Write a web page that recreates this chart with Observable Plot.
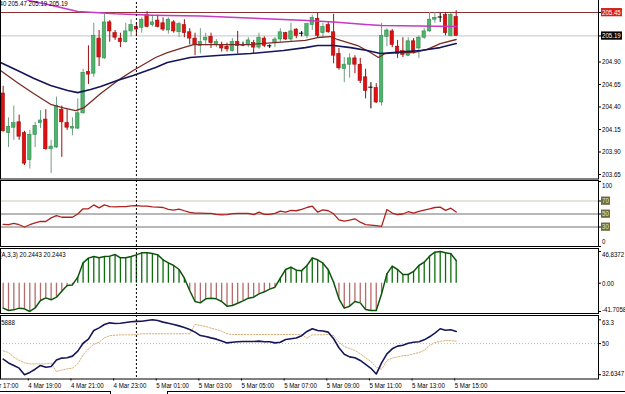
<!DOCTYPE html>
<html><head><meta charset="utf-8">
<script src="https://cdn.jsdelivr.net/npm/d3@7"></script>
<script src="https://cdn.jsdelivr.net/npm/@observablehq/plot@0.6"></script>
<style>
html,body{margin:0;padding:0;background:#fff;}
#chart{position:relative;width:625px;height:394px;overflow:hidden;background:#fff;}
#chart svg{position:absolute;left:0;overflow:hidden;}
.tab{position:absolute;border-color:#000;border-style:solid;border-width:0;}
</style></head><body><div id="chart"></div>
<script>
// ---- candles (15-minute bars, index 0 = 4 Mar 17:45) ----
const openP = [204.55,204.11,204.17,204.23,204.11,203.81,204.09,204.22,204.26,203.93,
203.95,204.37,204.22,204.16,204.16,204.33,204.79,204.77,205.16,204.94,
205.34,205.22,205.16,205.12,205.24,205.29,205.28,205.42,205.31,205.36,
205.33,205.25,205.34,205.23,205.31,205.23,205.16,205.08,205.14,205.18,
205.09,205.09,205.07,205.02,205.12,205.09,205.09,205.11,205.06,205.16,
205.08,205.11,205.15,205.22,205.15,205.26,205.22,205.19,205.31,205.38,
205.22,205.31,205.23,204.99,204.82,204.87,204.94,204.87,204.73,204.62,
204.61,204.45,205.18,205.24,205.07,205.02,204.97,205.13,205.05,205.17,
205.24,205.37,205.40,205.42,205.19,205.40];
const highP = [204.63,204.28,204.41,204.31,204.13,204.14,204.23,204.36,204.37,204.03,
204.51,204.41,204.37,204.28,204.49,204.82,205.08,205.33,205.25,205.43,
205.36,205.25,205.22,205.33,205.37,205.33,205.39,205.46,205.42,205.42,
205.39,205.39,205.36,205.34,205.37,205.27,205.22,205.27,205.22,205.22,
205.15,205.12,205.11,205.16,205.24,205.12,205.17,205.14,205.22,205.18,
205.09,205.17,205.27,205.23,205.33,205.27,205.24,205.33,205.42,205.44,
205.33,205.34,205.43,205.05,204.95,204.99,204.97,204.94,204.82,204.67,
204.66,205.33,205.27,205.26,205.14,205.17,205.17,205.16,205.19,205.27,
205.45,205.45,205.44,205.45,205.44,205.47];
const lowP = [204.12,203.95,204.03,204.03,203.75,203.71,203.95,204.16,203.92,203.66,
203.94,203.84,204.14,204.08,204.15,204.32,204.65,204.73,204.85,204.93,
205.12,205.14,205.06,205.11,205.18,205.19,205.22,205.28,205.29,205.28,
205.24,205.21,205.22,205.17,205.17,205.09,204.97,204.99,205.08,205.05,
205.06,205.01,205.01,205.01,204.99,205.07,205.06,204.99,205.04,205.06,
205.05,205.06,205.12,205.14,205.12,205.16,205.18,205.16,205.25,205.17,
205.17,205.22,204.88,204.81,204.67,204.72,204.77,204.66,204.49,204.38,
204.44,204.41,205.07,205.06,204.94,204.95,204.96,204.99,204.94,205.15,
205.23,205.33,205.34,205.19,205.18,205.19];
const closeP = [204.13,204.18,204.22,204.07,203.77,204.09,204.19,204.25,203.93,203.96,
204.41,204.23,204.17,204.18,204.33,204.78,204.76,205.19,204.95,205.34,
205.24,205.17,205.12,205.24,205.31,205.26,205.37,205.29,205.34,205.29,
205.26,205.37,205.24,205.32,205.22,205.16,205.09,205.12,205.17,205.11,
205.12,205.05,205.04,205.12,205.08,205.09,205.14,205.06,205.17,205.08,
205.08,205.15,205.23,205.15,205.24,205.19,205.22,205.32,205.39,205.19,
205.29,205.23,204.97,204.83,204.87,204.94,204.87,204.69,204.58,204.62,
204.45,205.19,205.25,205.09,204.99,204.98,205.13,205.01,205.17,205.24,
205.37,205.39,205.40,205.22,205.42,205.19];

// ---- moving averages on the price panel (sampled at bar index) ----
const magIdx = [2, 5, 9, 14, 21, 28, 37, 46, 57, 62, 68, 71, 85];
const magVal = [205.65, 205.58, 205.53, 205.46, 205.435, 205.42, 205.41, 205.39, 205.36, 205.344, 205.316, 205.305, 205.294];
const brownIdx = [-0.5, 2.7, 5.7, 8.9, 11.3, 13.6, 15.1, 18.3, 21.4, 24.4, 28.6, 30.8, 33.8, 35.7, 46.4, 48.3, 56.7, 59, 61.4, 62.7, 66.5, 68.9, 70.4, 71.7, 74.5, 77, 79.6, 82, 85];
const brownVal = [204.805, 204.67, 204.55, 204.43, 204.39, 204.36, 204.39, 204.55, 204.69, 204.805, 204.95, 205.005, 205.06, 205.094, 205.094, 205.105, 205.14, 205.172, 205.183, 205.15, 205.083, 205.005, 204.95, 204.994, 205.005, 205.005, 205.04, 205.105, 205.15];
const navyIdx = [-0.5, 2.7, 5.7, 8.9, 12.1, 14, 16.4, 18.3, 21.4, 24.4, 28.6, 30.8, 35.1, 40.2, 46.4, 52.6, 56.7, 59, 62, 65.2, 68.3, 70.8, 73.2, 78.3, 82, 85];
const navyVal = [204.894, 204.805, 204.72, 204.64, 204.583, 204.56, 204.594, 204.627, 204.694, 204.75, 204.84, 204.894, 204.95, 204.972, 204.994, 205.028, 205.06, 205.083, 205.083, 205.06, 205.028, 204.994, 205.005, 205.028, 205.06, 205.105];
const priceLines = [205.45, 205.19];
const priceTicks = [205.45, 205.19, 204.90, 204.65, 204.40, 204.15, 203.90, 203.65];
const priceHeader = "40 205.47 205.19 205.19";

// ---- RSI ----
const rsi = [34,33.5,35.5,33.5,30,33.5,36.5,38.5,38.5,44,
47.5,45,45,45,50,58,58,64,59.5,64,
61.5,61,61.5,61.5,62.5,63,62,62,61,60.5,
60,57,56,57.5,55,52.5,51.5,51.5,51,51,
49.5,48.5,49,50.5,51,51,51,49,53,49.5,
49.5,51,54.5,53,55.5,55,57,60,62,53,
56.4,55,50.3,41,39,40.5,42.6,37.4,33.8,33,
32,31,56.9,51.5,49.2,50,53.5,51.5,54,56,
57.9,60,60.5,55.5,59,53];
const rsiLevels = [70, 50, 30];
const rsiTicks = [100, 70, 50, 30, 0];

// ---- histogram oscillator ----
const hist = [-36.8,-40.3,-39.3,-36.8,-37.8,-41.7058,-36.5,-25.5,-21.6,-24.5,
-20.6,-11.8,-3.4,-2.5,8.9,30,37,39.4,37.4,39.4,
39.9,42.3,37.4,37.4,39.4,41.8,44.8,44.8,43.8,41.8,
34.5,30,26.1,20.2,7.4,-10.8,-27,-29,-23.1,-22.1,
-23.1,-27,-33.9,-32.9,-29.5,-26,-22.1,-20.6,-15.7,-12.7,
-8.8,-5.9,7.4,20.2,23.6,19.2,18.5,26.1,37.2,34.5,
29.5,19.7,1.5,-23.1,-36.8,-33.9,-27,-29,-38.8,-40.3,
-40.3,-15.7,13.8,25.1,20.2,12.8,12.8,17.3,26.1,31,
39.9,45.8,46.8372,44.8,43.3,33.5];
const histTicks = [46.8372, 0, -41.7058];
const histTickText = ["46.8372", "0.00", "-41.7058"];
const histHeader = "(A,3,3) 20.2443 20.2443";

// ---- bottom oscillator (main + signal) ----
const osc = [41.3,39.2,37.8,36.3,32.6347,33.9,35.7,37.8,36.8,37.2,
40.8,41.9,42.1,43,45.8,50.2,52.5,57.3,58.8,60.7,
61.6,61.2,61.4,61.8,62.2,62.4,62.5,62.9,63.3,62.9,
62,61.4,60.7,59.9,59,57.9,56.4,54.5,54,53.2,
52.5,51.4,50.4,50.8,51,51.2,51.2,51.2,51.4,51,
51,50.4,50.8,52.3,52.7,53.1,54.4,56.8,58.3,57.3,
57,56.4,52.7,47.7,44.1,42.6,42.1,40.6,38.4,36.2,
33,39.2,44.3,47.1,48.6,49.1,50.2,50.8,51,52.1,
53.8,55.9,58.3,57.5,57.7,56.8];
const oscSignal = [46,45,42.4,40.6,39.3,38.7,38.7,38.7,38.7,39.1,
34.4,35.2,35.9,36.3,38.7,43.7,47.1,49.5,50.8,53.2,
54.4,54.7,54.9,54.9,54.9,55.1,55.5,55.5,55.5,55.5,
55.5,55.5,55.5,55.5,55.5,55.5,60.7,60.1,59.6,58.6,
57.9,56.9,55.5,55.1,55.1,55.1,55.1,55.1,55.1,55.1,
55.1,55.1,55.1,55.1,55.1,55.1,55.1,53,54.9,54.9,
54.9,55.1,54.5,50.8,48.4,47.3,46.2,44.3,42.1,40,
36.8,35.7,40.6,41.9,42.6,43.2,43.5,44.3,45,46.2,
49,50.6,51.2,51.7,51.6,51.4];
const oscTicks = [63.3, 50, 32.6347];
const oscTickText = ["63.3", "50", "32.6347"];
const oscHeader = ".5888";

// ---- time axis ----
const timeIdx = [-3, 5, 13, 21, 29, 37, 45, 53, 61, 69, 77, 85];
const timeText = ["4 Mar 17:00","4 Mar 19:00","4 Mar 21:00","4 Mar 23:00","5 Mar 01:00","5 Mar 03:00",
  "5 Mar 05:00","5 Mar 07:00","5 Mar 09:00","5 Mar 11:00","5 Mar 13:00","5 Mar 15:00"];
const daySeparator = [25];

// =====================================================================
const chart = document.getElementById("chart");
const FONT = "'Liberation Sans',Arial,sans-serif";
const SQUEEZE = 0.82;
const xDomain = [-0.5, 111.7];
const idx = a => a.map((v, i) => ({i, v}));
const pairs = (I, V) => I.map((i, k) => ({i, v: V[k]}));

const candles = openP.map((o, i) => ({i, o, h: highP[i], l: lowP[i], c: closeP[i]}));
const dir = d => d.c > d.o ? "up" : d.c < d.o ? "down" : "doji";
const bodyFill = {up: "#4fb36c", down: "#e01010", doji: "#000"};
const bodyStroke = {up: "#2f8a4c", down: "#a00c0c", doji: "#000"};
const wickCol = {up: "#6f9f80", down: "#9a1010", doji: "#000"};

function panel({top, bottom, calib, marks, ticks, fmt, xAxis, shifts}) {
  const mt = 1, mb = xAxis ? (394 - bottom) : 1;
  const height = (bottom - top) + mt + mb;
  const p = Plot.plot({
    width: 625, height, marginTop: mt, marginBottom: mb, marginLeft: 0, marginRight: 27,
    style: {fontFamily: FONT, fontSize: "7.5px", background: "transparent", color: "#000"},
    x: {domain: xDomain, axis: null, label: null},
    y: {domain: [calib[1], calib[0]], axis: null, label: null},
    marks: [
      ...marks,
      Plot.ruleX(daySeparator, {stroke: "#000", strokeDasharray: "2,2", strokeWidth: 1}),
      Plot.frame({stroke: "#000", strokeWidth: 1}),
      Plot.axisY({anchor: "right", ticks, tickFormat: fmt, tickSize: 2, tickPadding: 1.5, stroke: "#000", label: null}),
      xAxis ? Plot.axisX({anchor: "bottom", ticks: timeIdx, tickFormat: d => timeText[timeIdx.indexOf(d)],
        tickSize: 2, tickPadding: 2, textAnchor: "start", dx: -1.5, label: null}) : null
    ]
  });
  p.style.top = (top - mt) + "px";
  chart.append(p);
  d3.select(p).selectAll("text").each(function() {
    const t = this.textContent;
    const dy = shifts && shifts[t] ? shifts[t] : 0;
    const x = +(this.getAttribute("x") || 0);
    const tr = this.getAttribute("transform") || "";
    this.setAttribute("transform", `${tr} translate(${x},${dy}) scale(${SQUEEZE},1) translate(${-x},0)`);
  });
  return p;
}

function boxLabel(svg, label, bg, fg) {
  d3.select(svg).selectAll("text").filter(function() { return this.textContent === label; }).each(function() {
    const b = this.getBBox();
    d3.select(this.parentNode).insert("rect", () => this).attr("x", b.x - 1.2).attr("y", b.y - 0.3)
      .attr("width", b.width + 2.4).attr("height", b.height + 0.6)
      .attr("fill", bg).attr("transform", this.getAttribute("transform"));
    d3.select(this).attr("fill", fg);
  });
}

// price panel: calibration 205.5833 - y/90
const pTop = -2, pBot = 178.5;
const pSvg = panel({
  top: pTop, bottom: pBot, calib: [205.5833 - pTop / 90, 205.5833 - pBot / 90],
  ticks: priceTicks, fmt: d => d.toFixed(2),
  marks: [
    Plot.ruleY(priceLines, {stroke: (d, i) => i === 0 ? "#8a3030" : "#c4c4c4", strokeWidth: 1}),
    Plot.ruleX(candles, {x: "i", y1: "l", y2: "h", stroke: d => wickCol[dir(d)], strokeWidth: 1}),
    Plot.rect(candles.filter(d => dir(d) !== "doji"), {x1: d => d.i - 0.32, x2: d => d.i + 0.32, y1: "o", y2: "c",
      fill: d => bodyFill[dir(d)], stroke: d => bodyStroke[dir(d)], strokeWidth: 0.6}),
    Plot.ruleY(candles.filter(d => dir(d) === "doji"), {y: "c", x1: d => d.i - 0.4, x2: d => d.i + 0.4, stroke: "#000"}),
    Plot.line(pairs(magIdx, magVal), {x: "i", y: "v", stroke: "#c43ac4", strokeWidth: 1.5}),
    Plot.line(pairs(brownIdx, brownVal), {x: "i", y: "v", stroke: "#7a2a22", strokeWidth: 1.3}),
    Plot.line(pairs(navyIdx, navyVal), {x: "i", y: "v", stroke: "#15155c", strokeWidth: 1.6}),
    Plot.text([priceHeader], {frameAnchor: "top-left", dx: -1, dy: 2.5, fill: "#000"})
  ]
});
boxLabel(pSvg, "205.45", "#d42020", "#fff");
boxLabel(pSvg, "205.19", "#000", "#fff");

// RSI panel: calibration (246 - y)/0.65
const rTop = 180, rBot = 246;
const rSvg = panel({
  top: rTop, bottom: rBot, calib: [(246 - rTop) / 0.65, (246 - rBot) / 0.65],
  ticks: rsiTicks, fmt: d => String(d), shifts: {"100": 4, "0": -5},
  marks: [
    Plot.ruleY(rsiLevels, {stroke: (d, i) => i === 0 ? "#c9c9b4" : "#707070", strokeWidth: 1}),
    Plot.line(idx(rsi), {x: "i", y: "v", stroke: "#b0201c", strokeWidth: 1.3})
  ]
});
["70", "50", "30"].forEach(t => boxLabel(rSvg, t, "#6b6b3c", "#e8e8c8"));

// histogram panel: calibration (282.7 - y)/0.678
const hTop = 248, hBot = 313;
const histData = idx(hist);
panel({
  top: hTop, bottom: hBot, calib: [(282.7 - hTop) / 0.678, (282.7 - hBot) / 0.678],
  ticks: histTicks, fmt: d => histTickText[histTicks.indexOf(d)], shifts: {"46.8372": 3.5, "-41.7058": -1.5},
  marks: [
    Plot.ruleX(histData, {x: "i", y1: 0, y2: "v", stroke: d => d.v >= 0 ? "#0b6e0b" : "#b86a6a", strokeWidth: 1.3}),
    Plot.line(histData, {x: "i", y: "v", stroke: "#0c560c", strokeWidth: 1.5}),
    Plot.text([histHeader], {frameAnchor: "top-left", dx: -1, dy: 3, fill: "#000"})
  ]
});

// bottom oscillator panel: calibration 63.3 - (y - 319.3)/1.79
const oTop = 315, oBot = 378.5;
panel({
  top: oTop, bottom: oBot, calib: [63.3 - (oTop - 319.3) / 1.79, 63.3 - (oBot - 319.3) / 1.79],
  ticks: oscTicks, fmt: d => oscTickText[oscTicks.indexOf(d)], xAxis: true, shifts: {"63.3": 2.5, "32.6347": -1},
  marks: [
    Plot.ruleY([50], {stroke: "#b8b8b8", strokeDasharray: "1,2"}),
    Plot.line(idx(oscSignal), {x: "i", y: "v", stroke: "#d6b07a", strokeWidth: 1, strokeDasharray: "1.5,1.5"}),
    Plot.line(idx(osc), {x: "i", y: "v", stroke: "#16165a", strokeWidth: 1.6}),
    Plot.text([oscHeader], {frameAnchor: "top-left", dx: -1, dy: 4, fill: "#000"})
  ]
});

// terminal tab strip at the very bottom
[[0, 391, 110], [167, 391, 458]].forEach(([l, t, w]) => {
  const d = document.createElement("div");
  d.className = "tab";
  d.style.cssText = `left:${l}px;top:${t}px;width:${w}px;height:4px;border-top-width:1px;border-left-width:${l ? 1 : 0}px;`;
  chart.append(d);
});
const endTab = document.createElement("div");
endTab.className = "tab";
endTab.style.cssText = "left:110px;top:391px;width:0;height:4px;border-left-width:1px;";
chart.append(endTab);
</script></body></html>
